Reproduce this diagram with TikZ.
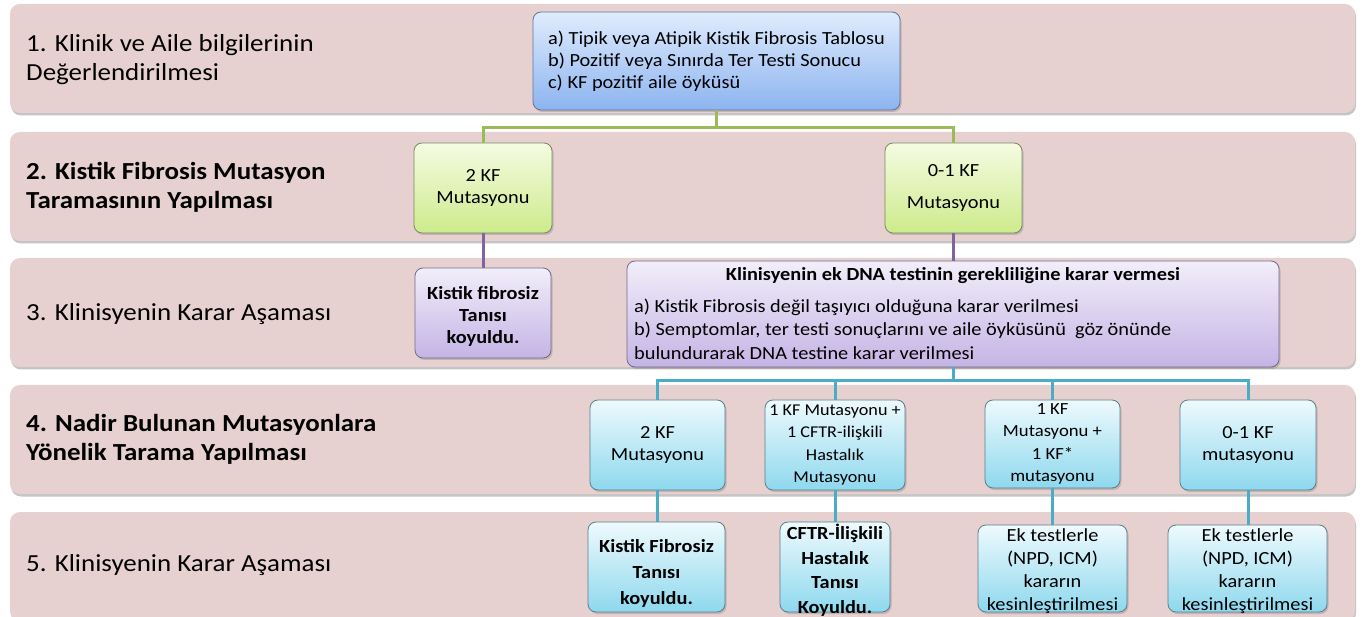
\documentclass[tikz,border=0pt]{standalone}
\usepackage{fontspec}
\setmainfont{Carlito}[FakeStretch=1.1]
\usetikzlibrary{shadows}
\definecolor{bandpink}{RGB}{231,208,208}
\definecolor{blueT}{RGB}{224,236,253}
\definecolor{blueB}{RGB}{140,180,240}
\definecolor{blueD}{RGB}{95,115,150}
\definecolor{greenT}{RGB}{245,251,226}
\definecolor{greenB}{RGB}{205,235,140}
\definecolor{greenD}{RGB}{120,135,100}
\definecolor{purpT}{RGB}{242,238,250}
\definecolor{purpB}{RGB}{196,180,229}
\definecolor{purpD}{RGB}{115,105,140}
\definecolor{cyanT}{RGB}{238,250,253}
\definecolor{cyanB}{RGB}{142,216,238}
\definecolor{cyanD}{RGB}{90,125,140}
\definecolor{gline}{RGB}{155,187,89}
\definecolor{pline}{RGB}{128,100,162}
\definecolor{bline}{RGB}{75,172,198}
\begin{document}
\begin{tikzpicture}[x=1pt,y=-1pt,
  bandbox/.style={rounded corners=10pt, fill=bandpink, minimum width=1345pt, minimum height=109pt, inner sep=0pt,
    drop shadow={shadow xshift=1pt,shadow yshift=-2.5pt,opacity=0.45}},
  lbl/.style={anchor=west, align=left, inner sep=0pt, font=\fontsize{24.5}{29}\selectfont},
  boxbase/.style={rounded corners=8pt, line width=0.8pt, inner sep=0pt, align=center,
    font=\fontsize{18.5}{22}\selectfont,
    drop shadow={shadow xshift=1.5pt,shadow yshift=-2pt,opacity=0.35}},
  bluebox/.style={boxbase, top color=blueT, bottom color=blueB, draw=blueD},
  greenbox/.style={boxbase, top color=greenT, bottom color=greenB, draw=greenD},
  purpbox/.style={boxbase, top color=purpT, bottom color=purpB, draw=purpD},
  cyanbox/.style={boxbase, top color=cyanT, bottom color=cyanB, draw=cyanD},
  txt/.style={inner sep=0pt, align=center},
  gconn/.style={draw=gline, line width=3pt},
  pconn/.style={draw=pline, line width=3pt},
  bconn/.style={draw=bline, line width=3pt},
  sz/.style 2 args={minimum width=#1pt, minimum height=#2pt}
]
\clip (0,0) rectangle (1363,617);
\fill[white] (0,0) rectangle (1363,617);

% bands
\node[bandbox] (b1) at (682.5,58.5) {};
\node[bandbox] (b2) at (682.5,186.5) {};
\node[bandbox] (b3) at (682.5,312.5) {};
\node[bandbox] (b4) at (682.5,439.5) {};
\node[bandbox] (b5) at (682.5,566.5) {};

% band labels
\node[lbl] (l1) at (26,60) {1. Klinik ve Aile bilgilerinin\\Değerlendirilmesi};
\node[lbl,font=\fontsize{24.5}{29}\selectfont\bfseries] (l2) at (26,187) {2. Kistik Fibrosis Mutasyon\\Taramasının Yapılması};
\node[lbl] (l3) at (26,314) {3. Klinisyenin Karar Aşaması};
\node[lbl,font=\fontsize{24.5}{29}\selectfont\bfseries] (l4) at (26,439) {4. Nadir Bulunan Mutasyonlara\\Yönelik Tarama Yapılması};
\node[lbl] (l5) at (26,565) {5. Klinisyenin Karar Aşaması};

% level 1
\node[bluebox, sz={367}{98}, align=left] (top) at (716.5,61)
  {a) Tipik veya Atipik Kistik Fibrosis Tablosu\\b) Pozitif veya Sınırda Ter Testi Sonucu\\c) KF pozitif aile öyküsü};

% level 2
\node[greenbox, sz={138}{90}] (k2) at (483,188) {2 KF\\Mutasyonu};
\node[greenbox, sz={137}{90}] (k01) at (953.5,188) {0-1 KF\\[10pt]Mutasyonu};

% level 3
\node[purpbox, sz={136}{90}] (kf3) at (483,313) {};
\node[txt, font=\fontsize{18.5}{22}\selectfont\bfseries] (kf3t) at (483,316) {Kistik fibrosiz\\Tanısı\\koyuldu.};
\node[purpbox, sz={652}{106}] (dna) at (953,314) {};
\node[txt, font=\fontsize{18.5}{22}\selectfont\bfseries] (dnatitle) at (953,276)
  {Klinisyenin ek DNA testinin gerekliliğine karar vermesi};
\node[txt, anchor=west, align=left, font=\fontsize{18.5}{23.5}\selectfont] (dnabody) at (634,329)
  {a) Kistik Fibrosis değil taşıyıcı olduğuna karar verilmesi\\b) Semptomlar, ter testi sonuçlarını ve aile öyküsünü\ \ göz önünde\\bulundurarak DNA testine karar verilmesi};

% level 4
\node[cyanbox, sz={135}{90}] (r4a) at (657.5,445) {2 KF\\Mutasyonu};
\node[cyanbox, sz={140}{90}, font=\fontsize{16.5}{22.5}\selectfont] (r4b) at (835,445) {1 KF Mutasyonu +\\1 CFTR-ilişkili\\Hastalık\\Mutasyonu};
\node[cyanbox, sz={135}{88}, font=\fontsize{17}{22.5}\selectfont] (r4c) at (1052.5,444) {1 KF\\Mutasyonu +\\1 KF*\\mutasyonu};
\node[cyanbox, sz={136}{90}] (r4d) at (1248,445) {0-1 KF\\mutasyonu};

% level 5
\node[cyanbox, sz={137}{90}] (r5a) at (656.5,567) {};
\node[txt, font=\fontsize{18.5}{26}\selectfont\bfseries] (r5at) at (656.5,573) {Kistik Fibrosiz\\Tanısı\\koyuldu.};
\node[cyanbox, sz={110}{90}] (r5b) at (835,567) {};
\node[txt, font=\fontsize{18.5}{24.5}\selectfont\bfseries] (r5bt) at (835,570) {CFTR-İlişkili\\Hastalık\\Tanısı\\Koyuldu.};
\node[cyanbox, sz={149}{87}] (r5c) at (1052.5,568.5) {};
\node[txt, font=\fontsize{18.5}{23}\selectfont] (r5ct) at (1052.5,571) {Ek testlerle\\(NPD, ICM)\\kararın\\kesinleştirilmesi};
\node[cyanbox, sz={159}{87}] (r5d) at (1247.5,568.5) {};
\node[txt, font=\fontsize{18.5}{23}\selectfont] (r5dt) at (1247.5,571) {Ek testlerle\\(NPD, ICM)\\kararın\\kesinleştirilmesi};

% connectors
\coordinate (gj) at (716.5,128);
\coordinate (bj) at (953,381);
\draw[gconn] (top.south) -- (gj);
\draw[gconn] (gj) -| (k2.north);
\draw[gconn] (gj) -| (k01.north);
\draw[pconn] (k2.south) -- (k2.south |- kf3.north);
\draw[pconn] (k01.south) -- (k01.south |- dna.north);
\draw[bconn] (dna.south -| bj) -- (bj);
\draw[bconn] (bj) -| (r4a.north);
\draw[bconn] (bj) -| (r4b.north);
\draw[bconn] (bj) -| (r4c.north);
\draw[bconn] (bj) -| (r4d.north);
\draw[bconn] (r4a.south) -- (r4a.south |- r5a.north);
\draw[bconn] (r4b.south) -- (r4b.south |- r5b.north);
\draw[bconn] (r4c.south) -- (r4c.south |- r5c.north);
\draw[bconn] (r4d.south) -- (r4d.south |- r5d.north);
\end{tikzpicture}
\end{document}
